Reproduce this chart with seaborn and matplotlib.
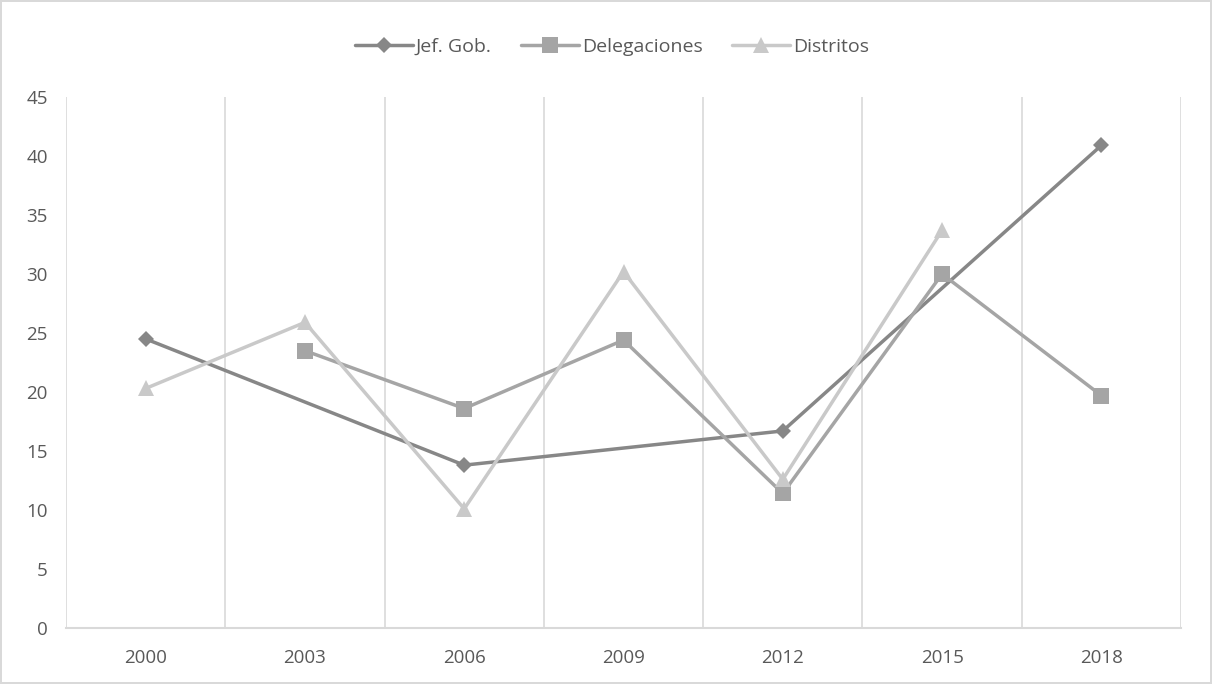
import numpy as np
import pandas as pd
import seaborn as sns
import matplotlib.pyplot as plt

years = ["2000", "2003", "2006", "2009", "2012", "2015", "2018"]
jef_gob = [24.5, None, 13.8, None, 16.7, None, 40.9]
delegaciones = [None, 23.5, 18.6, 24.4, 11.4, 30.0, 19.7]
distritos = [20.3, 25.9, 10.1, 30.2, 12.6, 33.7, None]

series_names = ["Jef. Gob.", "Delegaciones", "Distritos"]
colors = {"Jef. Gob.": "#878787", "Delegaciones": "#a5a5a5", "Distritos": "#c9c9c9"}
markers = {"Jef. Gob.": "D", "Delegaciones": "s", "Distritos": "^"}
msizes = {"Jef. Gob.": 8, "Delegaciones": 11, "Distritos": 11.5}

rows = []
for name, vals in zip(series_names, [jef_gob, delegaciones, distritos]):
    for i, v in enumerate(vals):
        rows.append({"pos": i, "valor": v, "serie": name})
df = pd.DataFrame(rows).dropna()

sns.set_theme(style="white")
plt.rcParams["font.family"] = ["Open Sans", "DejaVu Sans"]

fig = plt.figure(figsize=(12.12, 6.84), dpi=100)
fig.patch.set_edgecolor("#d9d9d9")
fig.patch.set_linewidth(1.5)
ax = fig.add_axes([66 / 1212, 56 / 684, 1115 / 1212, 531 / 684])

for name in series_names:
    sub = df[df["serie"] == name]
    sns.lineplot(data=sub, x="pos", y="valor", ax=ax, color=colors[name],
                 marker=markers[name], markersize=msizes[name],
                 markeredgewidth=0, linewidth=2.5, label=name, sort=True)

ax.set_xlim(-0.5, 6.5)
ax.set_ylim(0, 45)
ax.set_yticks(np.arange(0, 46, 5))
ax.set_xticks(range(len(years)))
ax.set_xticklabels(years)
for xv in np.arange(-0.5, 7, 1):
    ax.axvline(xv, color="#d9d9d9", linewidth=1.2, zorder=0)
for s in ["top", "right", "left"]:
    ax.spines[s].set_visible(False)
ax.spines["bottom"].set_color("#d9d9d9")
ax.spines["bottom"].set_linewidth(1.5)
ax.tick_params(axis="both", length=0, labelsize=13.5, colors="#595959")
ax.tick_params(axis="y", pad=13)
ax.tick_params(axis="x", pad=15)
ax.set_xlabel("")
ax.set_ylabel("")

ax.legend(loc="center", bbox_to_anchor=(0.505, 0.932), bbox_transform=fig.transFigure,
          ncol=3, frameon=False, fontsize=14, handlelength=3, handletextpad=0.15,
          columnspacing=1.5, labelcolor="#595959")

fig.savefig("out.png", dpi=100, edgecolor=fig.get_edgecolor())
